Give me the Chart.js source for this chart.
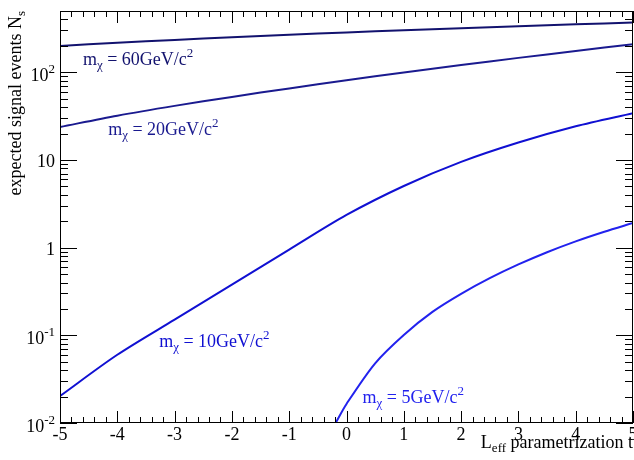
<!DOCTYPE html>
<html>
<head>
<meta charset="utf-8">
<script src="https://cdn.jsdelivr.net/npm/chart.js@4/dist/chart.umd.min.js"></script>
<style>
  body { margin: 0; background: #fff; }
  #wrap { width: 634px; height: 460px; }
</style>
</head>
<body>
<div id="wrap"><canvas id="c"></canvas></div>
<script>
// values
const xs = [-5, -4, -3, -2, -1, 0, 1, 2, 3, 4, 5];
const n60 = [200, 217, 234, 251, 268, 285, 302, 318, 335, 352, 370];
const n20 = [23.8, 32.0, 41.4, 52.4, 65.5, 81.1, 99.5, 121, 146, 175, 209];
const n10 = [0.0203, 0.060, 0.151, 0.378, 0.95, 2.36, 5.05, 9.5, 15.8, 24.2, 34.1];
const xs5 = [-0.19, 0, 0.5, 1, 1.5, 2, 2.5, 3, 3.5, 4, 4.5, 5];
const n5 = [0.0100, 0.0165, 0.048, 0.101, 0.185, 0.297, 0.448, 0.643, 0.887, 1.18, 1.52, 1.91];

const masses = ['60', '20', '10', '5'];
const xTicks = [-5, -4, -3, -2, -1, 0, 1, 2, 3, 4, 5];
const yTicks = [0.01, 0.1, 1, 10, 100];
const yBase = ['10', '10', '1', '10', '10'];
const yExp = ['-2', '-1', '', '', '2'];

const colors = ['#12126e', '#1a1a8f', '#1010d2', '#2222ee'];
// where the mass labels sit (data coords: left edge, baseline)
const labelPos = [[-4.60, 120], [-4.16, 19.1], [-3.27, 0.074], [0.28, 0.0168]];

const FONT = '"Liberation Serif", "Times New Roman", serif';

function pts(x, y) {
  return x.map((v, i) => ({ x: v, y: y[i] }));
}

function drawRuns(ctx, runs, x, y, align) {
  let w = 0;
  runs.forEach(r => { ctx.font = r.s + 'px ' + FONT; w += ctx.measureText(r.t).width; });
  let cx = align === 'right' ? x - w : (align === 'center' ? x - w / 2 : x);
  runs.forEach(r => {
    ctx.font = r.s + 'px ' + FONT;
    ctx.fillText(r.t, cx, y + (r.dy || 0));
    cx += ctx.measureText(r.t).width;
  });
}

const frame = {
  id: 'frame',
  afterDraw(chart) {
    const { ctx, chartArea: a, scales: { x, y } } = chart;
    ctx.save();
    ctx.strokeStyle = '#000';
    ctx.lineWidth = 1;
    ctx.strokeRect(a.left + 0.5, a.top + 0.5, a.right - a.left - 1, a.bottom - a.top - 1);

    ctx.beginPath();
    // x ticks, bottom and top, pointing in
    for (let i = 0; i <= 50; i++) {
      const px = Math.round(x.getPixelForValue(-5 + i * 0.2)) + 0.5;
      const len = i % 5 === 0 ? 12 : 6;
      ctx.moveTo(px, a.bottom); ctx.lineTo(px, a.bottom - len);
      ctx.moveTo(px, a.top); ctx.lineTo(px, a.top + len);
    }
    // y ticks, left and right
    for (let d = -2; d <= 2; d++) {
      for (let m = 1; m <= 9; m++) {
        const v = m * Math.pow(10, d);
        if (v > 500) break;
        const py = Math.round(y.getPixelForValue(v)) + 0.5;
        const len = m === 1 ? 17 : 8;
        ctx.moveTo(a.left, py); ctx.lineTo(a.left + len, py);
        ctx.moveTo(a.right, py); ctx.lineTo(a.right - len, py);
      }
    }
    ctx.stroke();

    ctx.fillStyle = '#000';
    ctx.textBaseline = 'alphabetic';
    // x tick labels
    xTicks.forEach(v => {
      drawRuns(ctx, [{ t: String(v), s: 18 }], x.getPixelForValue(v), 439.5, 'center');
    });
    // y tick labels
    yTicks.forEach((v, i) => {
      const py = y.getPixelForValue(v);
      if (yExp[i]) {
        drawRuns(ctx, [{ t: yBase[i], s: 18 }, { t: yExp[i], s: 13, dy: -8 }], 55, py + 9, 'right');
      } else {
        drawRuns(ctx, [{ t: yBase[i], s: 18 }], 55, py + 7, 'right');
      }
    });

    // axis titles
    drawRuns(ctx, [{ t: 'L', s: 18 }, { t: 'eff', s: 13, dy: 4 }, { t: ' parametrization t', s: 18 }], 633, 448, 'right');
    ctx.save();
    ctx.translate(21, 11);
    ctx.rotate(-Math.PI / 2);
    drawRuns(ctx, [{ t: 'expected signal events N', s: 18 }, { t: 's', s: 13, dy: 4 }], 0, 0, 'right');
    ctx.restore();

    // mass labels
    masses.forEach((m, i) => {
      ctx.fillStyle = colors[i];
      const px = x.getPixelForValue(labelPos[i][0]);
      const py = y.getPixelForValue(labelPos[i][1]);
      drawRuns(ctx, [
        { t: 'm', s: 18 }, { t: 'χ', s: 13, dy: 4 },
        { t: ' = ' + m + 'GeV/c', s: 18 }, { t: '2', s: 13, dy: -8 }
      ], px, py, 'left');
    });
    ctx.restore();
  }
};

const series = [pts(xs, n60), pts(xs, n20), pts(xs, n10), pts(xs5, n5)];

new Chart(document.getElementById('c'), {
  type: 'line',
  data: {
    datasets: series.map((d, i) => ({
      label: masses[i] + ' GeV',
      data: d,
      borderColor: colors[i],
      borderWidth: 2,
      pointRadius: 0,
      fill: false,
      tension: 0.3
    }))
  },
  options: {
    responsive: true,
    maintainAspectRatio: false,
    animation: false,
    layout: { padding: { left: 60, right: 1, top: 11, bottom: 37 } },
    plugins: { legend: { display: false }, tooltip: { enabled: false } },
    scales: {
      x: { type: 'linear', min: -5, max: 5, display: false },
      y: { type: 'logarithmic', min: 0.01, max: 500, display: false }
    }
  },
  plugins: [frame]
});
</script>
</body>
</html>
